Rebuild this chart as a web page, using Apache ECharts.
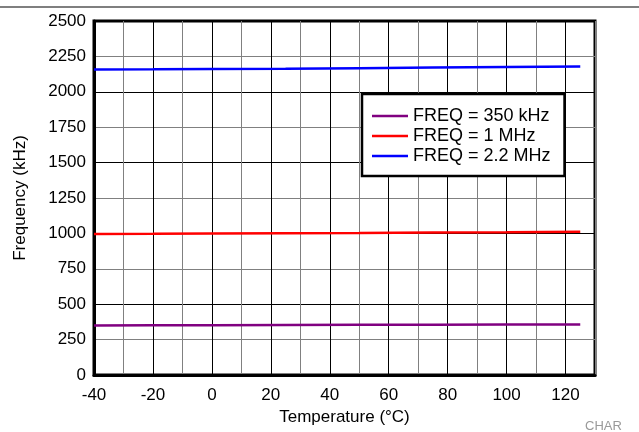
<!DOCTYPE html>
<html><head><meta charset="utf-8">
<script src="https://cdn.jsdelivr.net/npm/echarts@6/dist/echarts.min.js"></script>
<style>html,body{margin:0;padding:0;background:#fff}#c{width:639px;height:432px}</style>
</head><body><div id="c"></div>
<script>
const temps = [-40, -20, 0, 25, 50, 75, 100, 125];
const f350k = [350, 351, 352, 353, 354, 355, 356, 357];
const f1M = [996, 997, 999, 1001, 1003, 1006, 1008, 1011];
const f2M2 = [2158, 2159, 2161, 2163, 2167, 2171, 2175, 2179];
const seriesNames = ['FREQ = 350 kHz', 'FREQ = 1 MHz', 'FREQ = 2.2 MHz'];
const seriesColors = ['#800080', '#ff0000', '#0000ff'];

const font = 'Liberation Sans, Arial, sans-serif';
const chart = echarts.init(document.getElementById('c'));
const mk = (arr) => temps.map((t, i) => [t, arr[i]]);
const datasets = [f350k, f1M, f2M2];
chart.setOption({
  animation: false,
  textStyle: {fontFamily: font},
  grid: {left: 94, right: 44, top: 21, bottom: 57, show: true, borderColor: '#000', borderWidth: 3, containLabel: false},
  graphic: [
    {type: 'line', shape: {x1: 0, y1: 7, x2: 639, y2: 7}, style: {stroke: '#000', lineWidth: 1.2}},
    {type: 'text', left: 585, top: 420, style: {text: 'CHAR', fill: '#999', font: '13px ' + font}}
  ],
  legend: {
    left: 362, top: 94, orient: 'vertical',
    backgroundColor: '#fff', borderColor: '#000', borderWidth: 2.5,
    padding: [12, 14, 10, 10], itemGap: 0, itemWidth: 36, itemHeight: 14, itemTextGap: 10,
    textStyle: {fontSize: 18, lineHeight: 20, color: '#000', fontFamily: font},
    data: seriesNames.map(n => ({name: n, icon: 'path://M0,0 L36,0 L36,2.5 L0,2.5 Z'}))
  },
  xAxis: {
    type: 'value', min: -40, max: 130, interval: 10,
    name: 'Temperature (°C)', nameLocation: 'middle', nameGap: 33,
    nameTextStyle: {fontSize: 17, color: '#000', fontFamily: font},
    axisLine: {show: true, onZero: false, lineStyle: {color: '#000', width: 3}},
    axisTick: {show: false},
    axisLabel: {fontSize: 17, color: '#000', margin: 12, showMaxLabel: false,
      formatter: v => (v % 20 === 0 ? String(v) : '')},
    splitLine: {show: true, lineStyle: {color: ['#000', '#808080'], width: 1}}
  },
  yAxis: {
    type: 'value', min: 0, max: 2500, interval: 250,
    name: 'Frequency (kHz)', nameLocation: 'middle', nameGap: 65,
    nameTextStyle: {fontSize: 17, color: '#000', fontFamily: font},
    axisLine: {show: true, onZero: false, lineStyle: {color: '#000', width: 3}},
    axisTick: {show: false},
    axisLabel: {fontSize: 17, color: '#000', margin: 8, formatter: v => String(v)},
    splitLine: {show: true, lineStyle: {color: ['#000', '#808080'], width: 1}}
  },
  series: datasets.map((d, i) => ({
    name: seriesNames[i], type: 'line', data: mk(d), showSymbol: false,
    lineStyle: {color: seriesColors[i], width: 2.5}, itemStyle: {color: seriesColors[i]}
  }))
});
</script></body></html>
